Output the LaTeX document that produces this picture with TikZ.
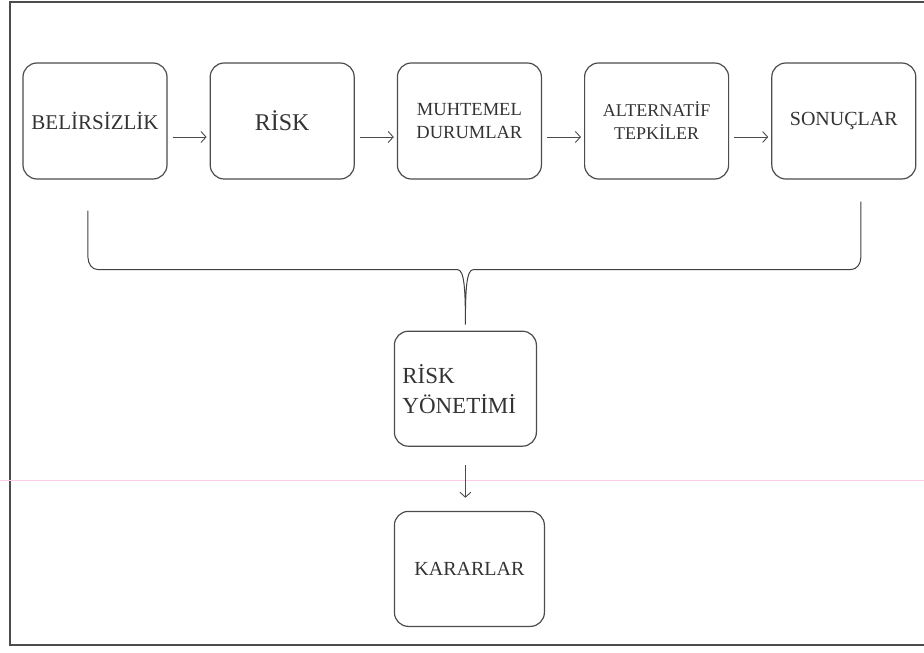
\documentclass[tikz,border=0pt]{standalone}
\usepackage{fontspec}
\setmainfont{Liberation Serif}
\usetikzlibrary{positioning,arrows.meta,calc}

\begin{document}
\begin{tikzpicture}[>={Straight Barb[length=5pt,width=11pt]}, node distance=42pt,
  box/.style={draw=black!70,line width=1.2pt,rounded corners=14pt,minimum width=144pt,minimum height=116pt,align=center,text=black!80,font=\fontsize{20}{23}\selectfont},
  link/.style={->,draw=black!70,line width=0.9pt,shorten <=5pt,shorten >=3pt},
  brace/.style={draw=black!75,line width=1pt}]
  \useasboundingbox (-95pt,121pt) rectangle (829pt,-532pt);
  \draw[black!70,line width=1.6pt] (835pt,119pt) -- (-85pt,119pt) -- (-85pt,-524pt) -- (835pt,-524pt);
  \draw[magenta!20,line width=1pt] (-95pt,-359pt) -- (829pt,-359pt);

  \node[box, font=\fontsize{21}{24}\selectfont] (bel) at (0,0) {BELİRSİZLİK};
  \node[box, right=of bel, font=\fontsize{24}{28}\selectfont] (rsk) {RİSK};
  \node[box, right=of rsk, font=\fontsize{18.5}{23}\selectfont] (muh) {MUHTEMEL\\DURUMLAR};
  \node[box, right=of muh, font=\fontsize{18}{23}\selectfont] (alt) {ALTERNATİF\\TEPKİLER};
  \node[box, right=of alt] (son) {SONUÇLAR};
  \foreach \a/\b in {bel/rsk,rsk/muh,muh/alt,alt/son}
    \draw[link] ([yshift=-16pt]\a.east) -- ([yshift=-16pt]\b.west);

  % brace under the top row
  \coordinate (bl) at ($(bel.south)+(-7pt,-31pt)$);
  \coordinate (br) at ($(son.south)+(17pt,-22pt)$);
  \coordinate (tip) at ($(muh.south)+(-4pt,-145pt)$);
  \coordinate (mid) at ($(tip)+(0,55pt)$);
  \draw[brace] (bl) -- ($(bl |- mid)+(0,12pt)$) to[out=-90,in=180] ($(bl |- mid)+(10pt,0)$)
    -- ($(mid)+(-8pt,0)$) .. controls ($(mid)+(-1pt,0)$) and ($(tip)+(0,35pt)$) .. (tip)
    .. controls ($(tip)+(0,35pt)$) and ($(mid)+(1pt,0)$) .. ($(mid)+(8pt,0)$)
    -- ($(br |- mid)+(-10pt,0)$) to[out=0,in=-90] ($(br |- mid)+(0,12pt)$) -- (br);

  \node[box, below=6pt of tip, align=left, text width=126pt, inner sep=8pt, minimum width=142pt, minimum height=115pt, font=\fontsize{23}{30}\selectfont] (ry) {RİSK\\YÖNETİMİ};
  \node[box, below=64pt of ry, xshift=4pt, minimum width=150pt, minimum height=115pt] (kar) {KARARLAR};
  \draw[link, shorten <=18pt, shorten >=13pt] (ry.south) -- (ry.south |- kar.north);
\end{tikzpicture}
\end{document}
